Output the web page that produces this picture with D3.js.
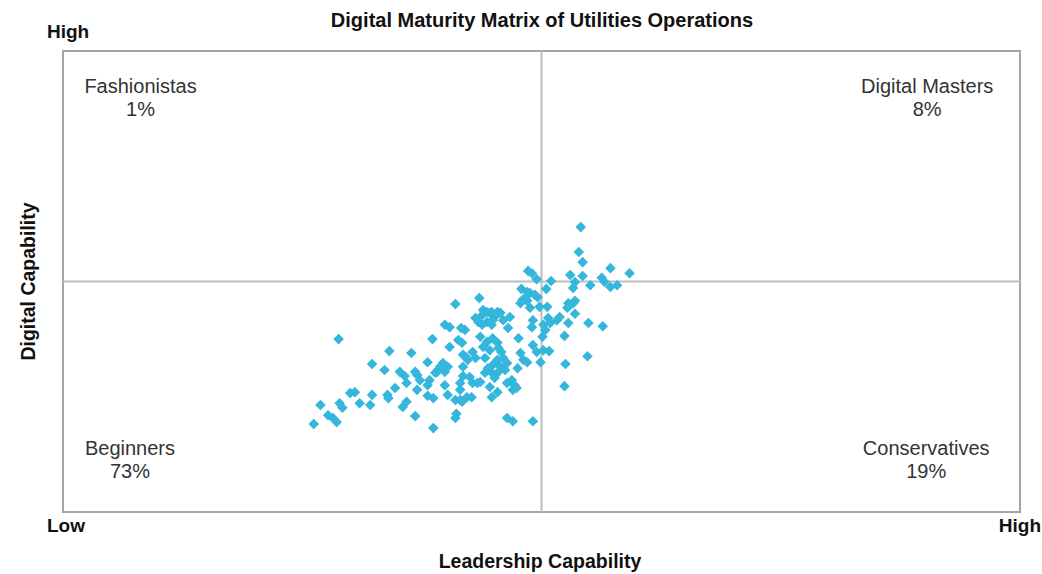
<!DOCTYPE html>
<html lang="en">
<head>
    <meta charset="UTF-8">
    <title>Digital Maturity Matrix of Utilities Operations</title>
    <script src="https://cdn.jsdelivr.net/npm/d3@7"></script>
    <style>
        body {margin: 0; background: #fff;}
        text {font-family: Arial, "Liberation Sans", Helvetica, sans-serif;}
    </style>
</head>
<body>
<svg id="chart"></svg>
<script>
    // DATA: companies on a 0-100 scale (leadership = x, digital = y)
    const leadership = [
        28.8, 26.2, 26.9, 27.7, 28.2, 28.6, 28.9, 29.2, 30.0, 30.5, 31.0, 32.3, 32.3, 32.1, 34.1, 33.6,
        33.9, 34.0, 34.7, 35.2, 35.7, 36.4, 35.9, 35.9, 35.5, 36.8, 37.0, 37.3, 37.0, 36.8, 38.1, 38.6,
        38.3, 38.1, 38.1, 38.7, 38.7, 39.1, 39.4, 39.7, 40.2, 39.2, 38.9, 39.9, 39.9, 40.2, 41.0, 41.5,
        40.4, 39.9, 40.4, 41.0, 41.6, 42.0, 41.3, 41.7, 41.8, 42.3, 42.8, 43.1, 41.8, 41.5, 41.5, 41.1,
        41.0, 42.1, 41.8, 42.5, 42.8, 42.2, 42.7, 41.7, 43.3, 43.6, 43.5, 43.1, 43.4, 43.8, 43.9, 44.3,
        44.6, 44.8, 45.4, 45.1, 44.3, 44.8, 43.8, 44.9, 45.7, 46.0, 43.6, 44.3, 44.9, 45.4, 43.9, 44.6,
        45.5, 45.8, 46.0, 45.4, 44.9, 44.4, 44.8, 45.7, 46.4, 44.1, 46.2, 45.5, 44.1, 45.1, 44.6, 45.4,
        44.8, 46.4, 46.9, 47.2, 47.0, 47.4, 46.4, 47.0, 49.1, 46.7, 46.5, 47.6, 47.8, 48.1, 47.5, 48.5,
        47.9, 48.5, 48.8, 49.3, 49.6, 48.0, 48.3, 47.8, 48.5, 48.8, 48.6, 49.0, 49.5, 49.8, 50.6, 49.1,
        49.0, 50.7, 50.2, 50.9, 50.4, 50.1, 49.1, 49.5, 50.2, 50.8, 49.9, 50.5, 51.0, 51.6, 51.9, 52.5,
        52.4, 52.4, 52.8, 53.3, 52.7, 53.5, 52.8, 53.5, 53.0, 53.5, 53.3, 54.1, 53.9, 54.3, 54.3, 54.9,
        56.4, 54.8, 55.1, 56.3, 56.6, 57.2, 57.9, 57.2, 59.2
    ];
    const digital = [
        37.5, 19.1, 23.2, 21.0, 20.4, 19.5, 23.6, 22.6, 25.8, 26.0, 23.6, 32.1, 25.4, 23.2, 34.9, 30.8,
        25.4, 24.7, 26.9, 30.4, 29.5, 34.5, 28.0, 23.9, 22.8, 30.4, 29.7, 28.6, 26.5, 20.8, 32.5, 37.5,
        28.6, 27.5, 25.2, 24.7, 18.2, 30.4, 31.5, 32.3, 31.5, 30.8, 30.2, 30.4, 27.5, 25.4, 24.3, 24.3,
        35.8, 40.6, 40.1, 45.1, 39.9, 39.5, 37.3, 36.7, 34.1, 33.0, 34.7, 33.4, 29.5, 28.0, 26.5, 21.3,
        20.4, 33.6, 31.5, 29.3, 28.0, 24.9, 24.9, 23.9, 28.0, 28.2, 46.4, 42.1, 41.2, 42.7, 43.8, 43.4,
        43.2, 43.4, 43.4, 42.3, 41.2, 40.6, 40.6, 41.6, 43.2, 41.6, 38.0, 36.9, 37.7, 36.7, 35.8, 35.1,
        35.6, 34.7, 33.4, 33.0, 31.9, 31.2, 30.2, 31.5, 32.3, 33.4, 30.8, 30.4, 30.2, 29.1, 27.1, 26.0,
        24.9, 28.0, 28.6, 27.5, 26.5, 26.9, 20.4, 19.7, 19.7, 42.3, 39.9, 37.7, 34.5, 33.0, 31.2, 32.5,
        48.4, 47.7, 47.5, 47.1, 46.6, 46.0, 46.4, 45.3, 45.8, 44.3, 52.3, 51.8, 50.5, 44.5, 44.5, 41.6,
        40.1, 42.1, 40.6, 41.0, 39.5, 38.0, 36.2, 34.7, 35.1, 34.9, 32.5, 48.4, 50.1, 41.6, 42.3, 32.1,
        38.2, 27.3, 45.3, 45.3, 44.3, 45.8, 41.0, 43.0, 51.4, 49.9, 48.6, 61.8, 56.4, 54.2, 51.2, 41.0,
        40.3, 33.8, 49.2, 50.8, 49.9, 48.8, 49.2, 52.9, 51.8
    ];
    const quadrants = [
        {name: "Fashionistas", share: "1%", lx: 8.1, ly: 90.9},
        {name: "Digital Masters", share: "8%", lx: 90.3, ly: 90.9},
        {name: "Beginners", share: "73%", lx: 7.0, ly: 12.4},
        {name: "Conservatives", share: "19%", lx: 90.2, ly: 12.4}
    ];
    const points = leadership.map((x, i) => ({x: x, y: digital[i]}));

    const W = 1042, H = 574;
    const box = {left: 63, right: 1020, top: 51, bottom: 512};

    const svg = d3.select("#chart").attr("width", W).attr("height", H);

    const x = d3.scaleLinear().domain([0, 100]).range([box.left, box.right]);
    const y = d3.scaleLinear().domain([0, 100]).range([box.bottom, box.top]);

    // frame and quadrant dividers
    svg.append("rect")
       .attr("x", x(0)).attr("y", y(100))
       .attr("width", x(100) - x(0)).attr("height", y(0) - y(100))
       .attr("fill", "none").attr("stroke", "#a4a4a4").attr("stroke-width", 2);
    svg.append("line")
       .attr("x1", x(50)).attr("x2", x(50)).attr("y1", y(0)).attr("y2", y(100))
       .attr("stroke", "#bdbdbd").attr("stroke-width", 2);
    svg.append("line")
       .attr("x1", x(0)).attr("x2", x(100)).attr("y1", y(50)).attr("y2", y(50))
       .attr("stroke", "#bdbdbd").attr("stroke-width", 2);

    // quadrant labels
    const q = svg.append("g").selectAll("g").data(quadrants).join("g")
                 .attr("transform", d => `translate(${x(d.lx)}, ${y(d.ly)})`)
                 .attr("fill", "#333").attr("font-size", 20).attr("text-anchor", "middle");
    q.append("text").text(d => d.name);
    q.append("text").attr("y", 23).text(d => d.share);

    // scatter points (rotated squares)
    const diamond = d3.symbol().type(d3.symbolSquare).size(56);
    svg.append("g").selectAll("path").data(points).join("path")
       .attr("d", diamond)
       .attr("transform", d => `translate(${x(d.x)}, ${y(d.y)}) rotate(45)`)
       .attr("fill", "#35b6dc");

    // titles and axis end labels
    const bold = (t, px, py, size, anchor) => svg.append("text")
        .attr("x", px).attr("y", py).attr("font-size", size).attr("font-weight", "bold")
        .attr("text-anchor", anchor).attr("fill", "#111").text(t);

    bold("Digital Maturity Matrix of Utilities Operations", 542, 27, 20, "middle");
    bold("High", 47, 38, 19, "start");
    bold("Low", 47, 532, 19, "start");
    bold("High", 1041, 532, 19, "end");
    bold("Leadership Capability", 540, 568, 19.5, "middle");
    bold("Digital Capability", 0, 0, 19.5, "middle")
        .attr("transform", `translate(35, ${y(50)}) rotate(-90)`);
</script>
</body>
</html>
